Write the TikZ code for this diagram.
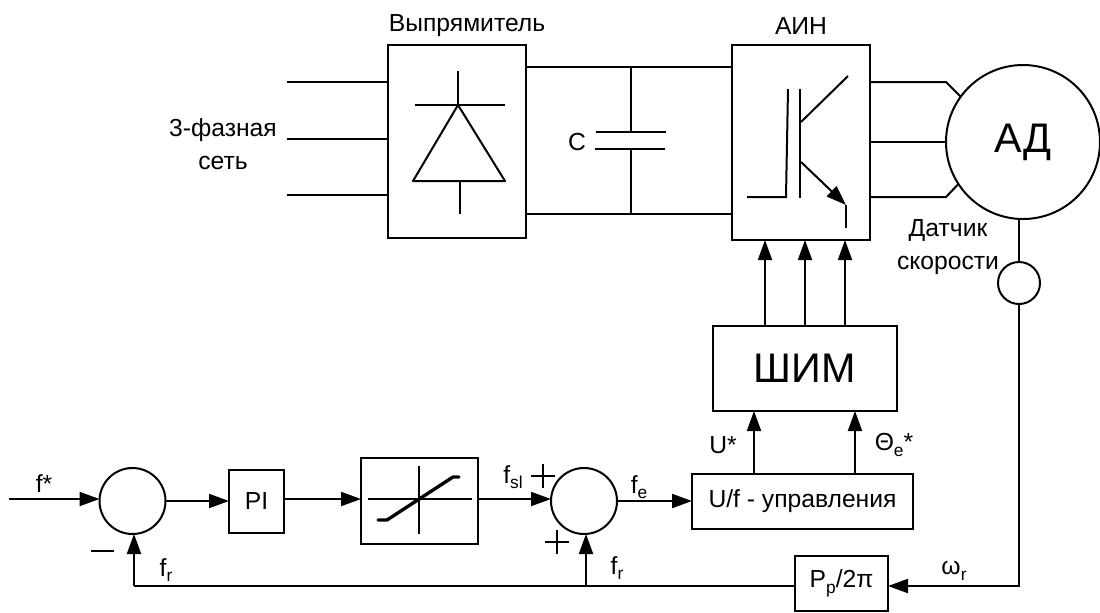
\documentclass[tikz,border=0pt]{standalone}
\usepackage{fontspec}
\setmainfont{Liberation Sans}
\usetikzlibrary{arrows.meta}
\tikzset{
  block/.style={draw, line width=1.5pt, fill=white, outer sep=0, inner sep=0,
    font=\fontsize{18.5}{22}\selectfont},
  sumnode/.style={draw, circle, line width=1.5pt, outer sep=0, inner sep=0},
  caption/.style={inner sep=0, align=center, font=\fontsize{18.5}{25}\selectfont},
  wire/.style={line width=1.5pt},
  sig/.style={-{Triangle[length=15pt,width=10.5pt]}, line width=1.5pt},
  glyph/.style={line width=1.5pt},
}
\newcommand{\lowidx}[1]{\raisebox{-0.22em}{\fontsize{13}{13}\selectfont #1}}
\begin{document}
\begin{tikzpicture}[x=0.75pt,y=-0.75pt]
    \useasboundingbox (0,0) rectangle (1100,612);

    % Rectifier
    \node[block,
      minimum width=138*0.75pt,
      minimum height=193*0.75pt] (rect) at (457,141.5) {};

    % Inverter
    \node[block,
      minimum width=138*0.75pt,
      minimum height=195*0.75pt] (ain) at (801,142.5) {};

    % Motor
    \node[sumnode,
      minimum size=154*0.75pt,
      font=\fontsize{31}{36}\selectfont] (motor) at (1023,142) {АД};

    % Speed sensor
    \node[sumnode, minimum size=42*0.75pt] (sensor) at (1019,283) {};

    % PWM
    \node[block,
      minimum width=184*0.75pt,
      minimum height=85*0.75pt,
      font=\fontsize{31}{36}\selectfont] (shim) at (805,368.5) {ШИМ};

    % U/f control
    \node[block,
      minimum width=221*0.75pt,
      minimum height=55*0.75pt] (ctrl) at (802.5,501) {U/f - управления};

    % Pole pairs
    \node[block,
      minimum width=93*0.75pt,
      minimum height=55*0.75pt] (gain) at (841.5,583.5) {P\lowidx{p}/2π};

    % Summing nodes
    \node[sumnode, minimum size=66*0.75pt] (sumA) at (132.5,501) {};
    \node[sumnode, minimum size=66*0.75pt] (sumB) at (584,501) {};

    % PI
    \node[block,
      minimum width=55*0.75pt,
      minimum height=63*0.75pt] (pi) at (256.5,501) {PI};

    % Limiter
    \node[block,
      minimum width=117*0.75pt,
      minimum height=86*0.75pt] (limit) at (419.5,501) {};

    % Free ends and pins
    \coordinate (phaseA) at (287,82);
    \coordinate (phaseB) at (287,139);
    \coordinate (phaseC) at (287,195);
    \coordinate (busTop) at (631,67);
    \coordinate (busBot) at (631,214);
    \coordinate (plateA) at (631,132);
    \coordinate (plateB) at (631,149);
    \coordinate (outA) at (946,82);
    \coordinate (outB) at (946,142);
    \coordinate (outC) at (946,197);
    \coordinate (gateA) at (765,240);
    \coordinate (gateB) at (805,240);
    \coordinate (gateC) at (845,240);
    \coordinate (refU) at (754,411);
    \coordinate (refT) at (855,411);
    \coordinate (start) at (9,499);
    \coordinate (limitIn) at (361,499);
    \coordinate (corner) at (1019,586);
    \coordinate (fbA) at (134,586);
    \coordinate (fbB) at (586,586);

    % Draw Arrows
    \draw[wire] (phaseA) -- (phaseA -| rect.west);
    \draw[wire] (phaseB) -- (phaseB -| rect.west);
    \draw[wire] (phaseC) -- (phaseC -| rect.west);
    \draw[wire] (busTop -| rect.east) -- (busTop -| ain.west);
    \draw[wire] (busBot -| rect.east) -- (busBot -| ain.west);
    \draw[wire] (busTop) -- (plateA);
    \draw[wire] (plateB) -- (busBot);
    \draw[wire] (outA -| ain.east) -- (outA) -- (motor.144);
    \draw[wire] (outB -| ain.east) -- (motor.west);
    \draw[wire] (outC -| ain.east) -- (outC) -- (motor.213);
    \draw[wire] (sensor.north) -- (sensor.north |- motor.south);
    \draw[sig] (gateA |- shim.north) -- (gateA);
    \draw[sig] (gateB |- shim.north) -- (gateB);
    \draw[sig] (gateC |- shim.north) -- (gateC);
    \draw[sig] (refU |- ctrl.north) -- (refU);
    \draw[sig] (refT |- ctrl.north) -- (refT);
    \draw[sig] (start) -- (start -| sumA.west);
    \draw[sig] (sumA.east) -- (pi.west);
    \draw[sig] (limitIn -| pi.east) -- (limitIn);
    \draw[sig] (limitIn -| limit.east) -- (limitIn -| sumB.west);
    \draw[sig] (sumB.east) -- (ctrl.west);
    \draw[sig] (sensor.south) -- (corner) -- (gain.east |- corner);
    \draw[wire] (gain.west |- fbA) -- (fbA);
    \draw[sig] (fbA) -- (fbA |- sumA.south);
    \draw[sig] (fbB) -- (fbB |- sumB.south);

    % Capacitor plates
    \draw[glyph] (596,132) -- (666,132);
    \draw[glyph] (595,149) -- (665,149);

    % Diode
    \draw[glyph, line join=round] (458,105) -- (413,181) -- (505,181) -- cycle;
    \draw[glyph] (415,105) -- (505,105);
    \draw[glyph] (458,71) -- (458,105);
    \draw[glyph] (460,181) -- (460,214);

    % IGBT
    \draw[glyph] (800,89) -- (800,198);
    \draw[glyph] (788,89) -- (786,197) -- (747,197);
    \draw[glyph] (801,122) -- (848,76);
    \draw[sig] (801,162) -- (846,205);
    \draw[glyph] (846,205) -- (846,228);

    % Limiter curve
    \draw[line width=0.8pt] (368,499) -- (472,499);
    \draw[line width=0.8pt] (419,466) -- (419,534);
    \draw[line width=2.5pt, line cap=round, line join=round]
      (378,520) -- (387,520) -- (453,477) -- (459,477);

    % Signs
    \draw[glyph] (91,551) -- (114,551);
    \draw[glyph] (531,476) -- (555,476);
    \draw[glyph] (543,464) -- (543,488);
    \draw[glyph] (545,542) -- (569,542);
    \draw[glyph] (557,530) -- (557,554);

    % Text labels
    \node[caption] (lblGrid) at (223,144) {3-фазная\\сеть};
    \node[caption] (lblRect) at (467,26) {Выпрямитель};
    \node[caption] (lblAin) at (801,26) {АИН};
    \node[caption] (lblCap) at (577,142) {C};
    \node[caption] (lblSensor) at (948,247) {Датчик\\скорости};
    \node[caption] (lblRef) at (44,484) {f*};
    \node[caption] (lblSlip) at (513,477) {f\lowidx{sl}};
    \node[caption] (lblFe) at (639,487) {f\lowidx{e}};
    \node[caption] (lblFrA) at (166,570) {f\lowidx{r}};
    \node[caption] (lblFrB) at (617,568) {f\lowidx{r}};
    \node[caption] (lblU) at (723,445) {U*};
    \node[caption] (lblTheta) at (894,445) {Θ\lowidx{e}*};
    \node[caption] (lblOmega) at (954,571) {ω\lowidx{r}};
  \end{tikzpicture}
\end{document}
